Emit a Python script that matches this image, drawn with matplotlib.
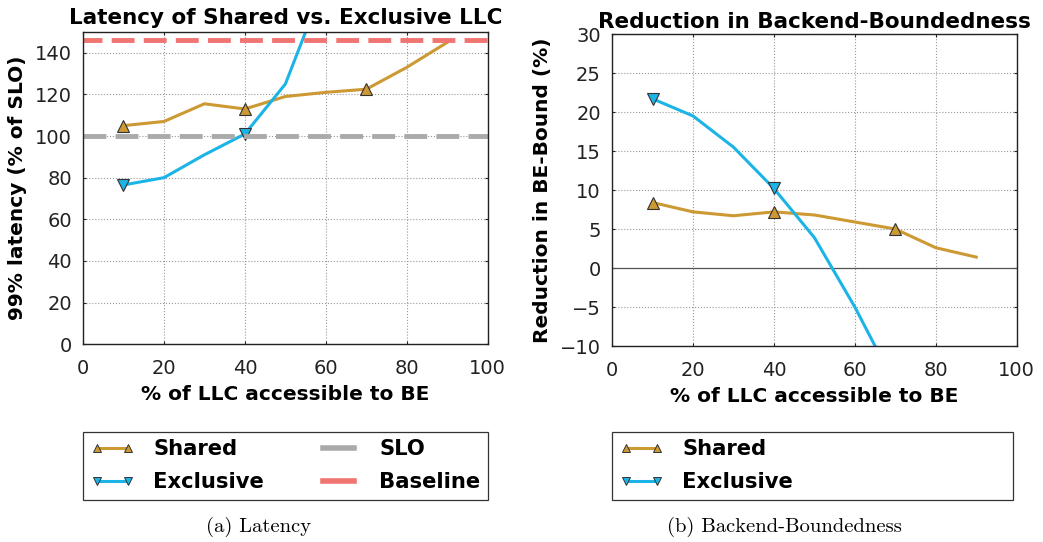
import numpy as np
import matplotlib
matplotlib.use("Agg")
import matplotlib.pyplot as plt
from matplotlib.lines import Line2D

# LLC share given to the best-effort job (%)
llc_pct = [10, 20, 30, 40, 50, 60, 70, 80, 90]

# (a) 99% latency, % of SLO
lat_shared = [105, 107, 115.5, 113, 119, 121, 122.5, 133, 145]
lat_exclusive = [76.5, 80, 91, 101, 125, 175, 210, 250, 290]
slo_level = 100
baseline_level = 146

# (b) reduction in BE-bound (%)
beb_shared = [8.4, 7.2, 6.7, 7.2, 6.8, 5.9, 5.0, 2.6, 1.4]
beb_exclusive = [21.7, 19.5, 15.5, 10.2, 3.9, -5.0, -15.0, -25.0, -35.0]

C_SHARED = "#cc9933"
C_EXCL = "#1cb4e6"
C_SLO = "#aaaaaa"
C_BASE = "#f07470"

plt.rcParams["font.family"] = "DejaVu Sans"

fig = plt.figure(figsize=(10.43, 5.42), dpi=100)
ax1 = fig.add_axes([0.0796, 0.365, 0.388, 0.576])
ax2 = fig.add_axes([0.5868, 0.3616, 0.388, 0.5756])


def style_axes(ax):
    ax.set_xlim(0, 100)
    ax.grid(True, linestyle=":", color="#999999", linewidth=0.8)
    ax.tick_params(direction="in", top=True, right=True, labelsize=14,
                   length=2, colors="#222222")
    ax.tick_params(axis="x", pad=11)
    ax.tick_params(axis="y", pad=8)
    for s in ax.spines.values():
        s.set_linewidth(1.0)
        s.set_color("#222222")
    ax.set_xlabel("% of LLC accessible to BE", fontsize=14.5, fontweight="bold",
                  labelpad=5)


mk = dict(markevery=[0, 3, 6], markersize=8, markeredgecolor="#333333",
          markeredgewidth=0.8, linewidth=2.2)

# ---- left: latency
ax1.plot(llc_pct, lat_shared, color=C_SHARED, marker="^",
         markerfacecolor=C_SHARED, **mk)
ax1.plot(llc_pct, lat_exclusive, color=C_EXCL, marker="v",
         markerfacecolor=C_EXCL, **mk)
ax1.axhline(slo_level, color=C_SLO, linestyle=(0, (4.7, 1.9)), linewidth=3.5)
ax1.axhline(baseline_level, color=C_BASE, linestyle=(0.8, (4.7, 1.9)),
            linewidth=3.5)
style_axes(ax1)
ax1.set_ylim(0, 150)
ax1.set_yticks(np.arange(0, 141, 20))
ax1.set_ylabel("99% latency (% of SLO)", fontsize=14.5, fontweight="bold",
               labelpad=6)
ax1.set_title("Latency of Shared vs. Exclusive LLC", fontsize=15.5,
              fontweight="bold", pad=6)

# ---- right: backend-boundedness
ax2.axhline(0, color="#555555", linewidth=0.9)
ax2.plot(llc_pct, beb_shared, color=C_SHARED, marker="^",
         markerfacecolor=C_SHARED, **mk)
ax2.plot(llc_pct, beb_exclusive, color=C_EXCL, marker="v",
         markerfacecolor=C_EXCL, **mk)
style_axes(ax2)
ax2.set_ylim(-10, 30)
ax2.set_yticks(np.arange(-10, 31, 5))
ax2.set_ylabel("Reduction in BE-Bound (%)", fontsize=14.5, fontweight="bold",
               labelpad=6)
ax2.set_title("Reduction in Backend-Boundedness", fontsize=15.5,
              fontweight="bold", pad=4)

# ---- legends below the plots
p_sh = Line2D([], [], color=C_SHARED, lw=2.2, marker="^", markersize=6,
              markerfacecolor=C_SHARED, markeredgecolor="#333333",
              markeredgewidth=0.7)
p_ex = Line2D([], [], color=C_EXCL, lw=2.2, marker="v", markersize=6,
              markerfacecolor=C_EXCL, markeredgecolor="#333333",
              markeredgewidth=0.7)
p_slo = Line2D([], [], color=C_SLO, lw=4)
p_base = Line2D([], [], color=C_BASE, lw=4)

leg_font = dict(size=15.2, weight="bold")
common = dict(loc="upper left", mode="expand", prop=leg_font,
              handlelength=2.08, handletextpad=0.89, fancybox=False,
              edgecolor="#333333", framealpha=1, borderpad=0.35,
              labelspacing=0.62, borderaxespad=0, numpoints=2)
leg1 = fig.legend([p_sh, p_ex, p_slo, p_base],
                  ["Shared", "Exclusive", "SLO", "Baseline"], ncol=2,
                  bbox_to_anchor=(83 / 1043, 1 - 502 / 542, 405 / 1043, 70 / 542),
                  **common)
leg2 = fig.legend([p_sh, p_ex], ["Shared", "Exclusive"], ncol=1,
                  bbox_to_anchor=(612 / 1043, 1 - 502 / 542, 401 / 1043, 70 / 542),
                  **common)
for lg in (leg1, leg2):
    lg.get_frame().set_linewidth(0.9)

fig.text(259 / 1043, 1 - 527 / 542, "(a) Latency", ha="center", va="center",
         fontsize=14.8, family="cmr10")
fig.text(784 / 1043, 1 - 527 / 542, "(b) Backend-Boundedness", ha="center",
         va="center", fontsize=14.8, family="cmr10")

fig.savefig("out.png", dpi=100)
